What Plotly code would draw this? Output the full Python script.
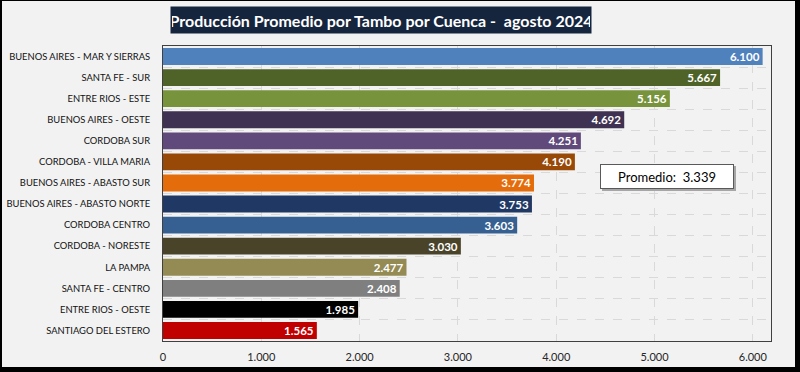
import plotly.graph_objects as go

categories = [
    "BUENOS AIRES - MAR Y SIERRAS", "SANTA FE - SUR", "ENTRE RIOS - ESTE",
    "BUENOS AIRES - OESTE", "CORDOBA SUR", "CORDOBA - VILLA MARIA",
    "BUENOS AIRES - ABASTO SUR", "BUENOS AIRES - ABASTO NORTE", "CORDOBA CENTRO",
    "CORDOBA - NORESTE", "LA PAMPA", "SANTA FE - CENTRO", "ENTRE RIOS - OESTE",
    "SANTIAGO DEL ESTERO",
]
values = [6100, 5667, 5156, 4692, 4251, 4190, 3774, 3753, 3603, 3030, 2477, 2408, 1985, 1565]
colors = ["#4f81bd", "#4f6228", "#77933c", "#3f3151", "#604a7b", "#984807",
          "#e46c0a", "#1f3864", "#376092", "#494429", "#948a54", "#7f7f7f",
          "#000000", "#c00000"]
promedio = 3339
title_text = "Producción Promedio por Tambo por Cuenca -  agosto 2024"

FONT = "Lato"

fig = go.Figure(go.Bar(
    x=values, y=categories, orientation="h",
    marker=dict(color=colors, line=dict(width=0)),
    texttemplate="<b>%{x:,.0f}</b>", textposition="inside",
    insidetextanchor="end", textangle=0, constraintext="none",
    textfont=dict(family=FONT, size=11.5, color="white"),
    cliponaxis=False, hoverinfo="skip",
))

L, R, T, B = 163, 29, 46, 31
W, H = 800, 372
pw, ph = W - L - R, H - T - B

def px(x):
    return (x - L) / pw

def py(y):
    return (H - B - y) / ph

shapes = [
    dict(type="rect", xref="paper", yref="paper", layer="below",
         x0=px(2), x1=px(795), y0=py(367), y1=py(1),
         fillcolor="#f2f2f2", line=dict(width=0)),
    dict(type="rect", xref="paper", yref="paper", layer="above",
         x0=px(602), x1=px(736), y0=py(191), y1=py(166),
         fillcolor="#a6a6a6", line=dict(width=0)),
]

annotations = [
    dict(text="<b>" + title_text + "</b>", xref="paper", yref="paper",
         x=px(381), y=py(20), xanchor="center", yanchor="middle",
         showarrow=False, bgcolor="#15253d", width=418, height=24,
         font=dict(family=FONT, size=16, color="white")),
    dict(text="Promedio:  " + f"{promedio:,}".replace(",", "."), xref="paper", yref="paper",
         x=px(667), y=py(176.5), xanchor="center", yanchor="middle",
         showarrow=False, bgcolor="white", bordercolor="#595959", borderwidth=1,
         width=130, height=21, borderpad=1,
         font=dict(family=FONT, size=13, color="black")),
]

fig.update_layout(
    width=W, height=H,
    margin=dict(l=L, r=R, t=T, b=B, pad=0, autoexpand=False),
    paper_bgcolor="black", plot_bgcolor="white",
    separators=",.",
    showlegend=False,
    bargap=0.2,
    uniformtext=dict(mode=False),
    shapes=shapes, annotations=annotations,
    xaxis=dict(range=[0, 6185], dtick=1000, tick0=0, tickformat=",.0f", automargin=False,
               showgrid=True, gridcolor="#d9d9d9", griddash="dash", gridwidth=1,
               zeroline=False, showline=True, linecolor="#404040", linewidth=1, mirror=True,
               ticks="", ticklabelstandoff=6,
               tickfont=dict(family=FONT, size=11, color="#262626")),
    yaxis=dict(autorange="reversed", tickson="boundaries", automargin=False,
               showgrid=True, gridcolor="#d9d9d9", griddash="dash", gridwidth=1,
               showline=True, linecolor="#404040", linewidth=1, mirror=True,
               ticks="", ticklen=0, ticklabelstandoff=10,
               tickfont=dict(family=FONT, size=9.4, color="#111111")),
)

fig.write_html("out.html", config={"displayModeBar": False},
               post_script="document.body.style.margin='0px';document.body.style.padding='0px';")
